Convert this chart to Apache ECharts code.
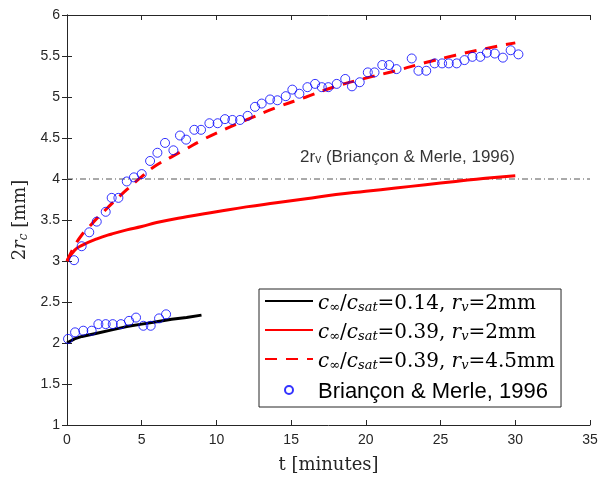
<!DOCTYPE html>
<html><head><meta charset="utf-8">
<script src="https://cdn.jsdelivr.net/npm/echarts@6/dist/echarts.min.js"></script>
<style>html,body{margin:0;padding:0;background:#fff}#c{width:603px;height:479px}</style>
</head><body><div id="c"></div>
<script>
// Data
const xTicks = [0,5,10,15,20,25,30,35];
const yTicks = [1,1.5,2,2.5,3,3.5,4,4.5,5,5.5,6];

const expUpperT = [0.47,0.98,1.49,1.99,2.59,2.99,3.44,4.0,4.48,5.0,5.56,6.05,6.56,7.12,7.56,7.97,8.52,8.97,9.53,10.08,10.57,11.07,11.58,12.09,12.58,13.03,13.59,14.08,14.64,15.08,15.55,16.09,16.6,17.05,17.49,18.05,18.62,19.07,19.59,20.13,20.58,21.1,21.56,22.05,23.07,23.52,24.04,24.6,25.1,25.55,26.08,26.6,27.13,27.66,28.1,28.63,29.17,29.69,30.21];
const expUpperD = [3.01,3.18,3.35,3.48,3.60,3.77,3.77,3.97,4.02,4.06,4.22,4.32,4.44,4.35,4.53,4.48,4.60,4.60,4.68,4.68,4.73,4.72,4.72,4.77,4.88,4.92,4.97,4.96,5.01,5.09,5.04,5.12,5.16,5.12,5.12,5.16,5.22,5.13,5.18,5.30,5.30,5.39,5.39,5.34,5.47,5.32,5.32,5.41,5.41,5.41,5.41,5.45,5.49,5.49,5.54,5.53,5.48,5.57,5.52];

const expLowerT = [0.07,0.54,1.09,1.65,2.1,2.59,3.06,3.61,4.15,4.62,5.11,5.6,6.16,6.63];
const expLowerD = [2.05,2.13,2.15,2.15,2.23,2.23,2.23,2.23,2.27,2.31,2.21,2.21,2.30,2.35];

const blackT = [0,0.5,1,2,3,4,5,6,7,8,9];
const blackD = [2.0,2.05,2.08,2.12,2.16,2.20,2.23,2.26,2.29,2.31,2.34];

const redT = [0,0.5,1,2,3,4,5,6,8,10,12,14,16,18,20,22,24,26,28,30];
const redD = [3.0,3.13,3.19,3.27,3.33,3.38,3.42,3.47,3.54,3.60,3.66,3.71,3.76,3.81,3.85,3.89,3.93,3.97,4.01,4.04];

const dashT = [0,0.5,1,1.5,2,2.5,3,4,5,6,7,8,9,10,12,14,16,18,20,22,24,26,28,30];
const dashD = [3.0,3.18,3.32,3.42,3.52,3.61,3.70,3.87,4.03,4.17,4.27,4.37,4.47,4.56,4.72,4.87,5.0,5.13,5.23,5.32,5.42,5.51,5.59,5.66];

const refLineT = [0,35];
const refLineD = [4,4];
const annotPos = [15.6,4.28];

const names = ['black','red','dash','exp'];

const zip = (a,b)=>a.map((v,i)=>[v,b[i]]);
const chart = echarts.init(document.getElementById('c'));
const axisCol = '#262626';
const serif = '"DejaVu Serif","Liberation Serif",serif';
const sans = '"Liberation Sans",Arial,sans-serif';

const LH = 26;
const richLeg = {
  i:{fontFamily:serif,fontStyle:'italic',fontSize:20,color:'#000',verticalAlign:'bottom',lineHeight:LH},
  n:{fontFamily:serif,fontSize:20,color:'#000',verticalAlign:'bottom',lineHeight:LH},
  s:{fontFamily:serif,fontStyle:'italic',fontSize:13,color:'#000',verticalAlign:'bottom',lineHeight:LH-3},
  a:{fontFamily:sans,fontSize:22,color:'#000',verticalAlign:'bottom',lineHeight:LH}
};
const legText = {
  black:'{i|c}{s|∞}{n|/}{i|c}{s|sat}{n|=0.14, }{i|r}{s|v}{n|=2mm}',
  red:'{i|c}{s|∞}{n|/}{i|c}{s|sat}{n|=0.39, }{i|r}{s|v}{n|=2mm}',
  dash:'{i|c}{s|∞}{n|/}{i|c}{s|sat}{n|=0.39, }{i|r}{s|v}{n|=4.5mm}',
  exp:'{a|Briançon & Merle, 1996}'
};
const hide = {opacity:0};

const option = {
  animation:false,
  grid:{left:67,right:13,top:15,bottom:51,containLabel:false},
  xAxis:[{
    type:'value',min:0,max:35,interval:5,
    axisLine:{lineStyle:{color:axisCol,width:1}},
    axisTick:{inside:true,length:5,lineStyle:{color:axisCol}},
    axisLabel:{color:axisCol,fontFamily:sans,fontSize:14,margin:8},
    splitLine:{show:false},
    name:'t [minutes]',nameLocation:'middle',nameGap:31,
    nameTextStyle:{fontFamily:serif,fontSize:18,color:axisCol}
  },{
    type:'value',min:0,max:35,interval:5,position:'top',
    axisLine:{lineStyle:{color:axisCol}},
    axisTick:{inside:true,length:5,lineStyle:{color:axisCol}},
    axisLabel:{show:false},splitLine:{show:false}
  }],
  yAxis:[{
    type:'value',min:1,max:6,interval:0.5,
    axisLine:{lineStyle:{color:axisCol}},
    axisTick:{inside:true,length:5,lineStyle:{color:axisCol}},
    axisLabel:{color:axisCol,fontFamily:sans,fontSize:14,margin:7},
    splitLine:{show:false},
    name:'{n|2}{i|r}{s|c}{n| [mm]}',nameLocation:'middle',nameGap:32,nameRotate:90,
    nameTextStyle:{rich:{
      n:{fontFamily:serif,fontSize:18,color:axisCol,verticalAlign:'bottom',lineHeight:22},
      i:{fontFamily:serif,fontSize:18,fontStyle:'italic',color:axisCol,verticalAlign:'bottom',lineHeight:22},
      s:{fontFamily:serif,fontSize:12,fontStyle:'italic',color:axisCol,verticalAlign:'bottom',lineHeight:20}
    }}
  },{
    type:'value',min:1,max:6,interval:0.5,position:'right',
    axisLine:{lineStyle:{color:axisCol}},
    axisTick:{inside:true,length:5,lineStyle:{color:axisCol}},
    axisLabel:{show:false},splitLine:{show:false}
  }],
  legend:{
    data:[
      {name:'black',itemStyle:hide},
      {name:'red',itemStyle:hide},
      {name:'dash',itemStyle:hide},
      {name:'exp'}
    ],
    orient:'vertical',left:259,top:289,
    itemWidth:48,itemHeight:8,itemGap:9,
    padding:[5,6,4,5],
    borderColor:'#262626',borderWidth:1,backgroundColor:'#fff',
    formatter:(n)=>legText[n],
    textStyle:{rich:richLeg}
  },
  series:[
    {name:'ref',type:'line',data:zip(refLineT,refLineD),showSymbol:false,symbol:'none',
     lineStyle:{color:'#555',width:1,type:[6,3,1,3]},silent:true,z:1},
    {name:'black',type:'line',data:zip(blackT,blackD),symbol:'none',color:'#000',
     lineStyle:{color:'#000',width:3},z:3},
    {name:'red',type:'line',data:zip(redT,redD),symbol:'none',color:'#ff0000',smooth:true,
     lineStyle:{color:'#ff0000',width:3},z:3},
    {name:'dash',type:'line',data:zip(dashT,dashD),symbol:'none',color:'#ff0000',smooth:true,
     lineStyle:{color:'#ff0000',width:3,type:[12,9]},z:3},
    {name:'exp',type:'scatter',data:zip(expUpperT,expUpperD).concat(zip(expLowerT,expLowerD)),
     symbol:'circle',symbolSize:9,
     itemStyle:{color:'rgba(0,0,0,0)',borderColor:'#0000ff',borderWidth:1},z:4},
    {name:'annot',type:'scatter',data:[annotPos],symbolSize:0,silent:true,
     label:{show:true,position:'right',distance:0,
       formatter:'{a|2r}{s|v}{a| (Briançon & Merle, 1996)}',
       rich:{a:{fontFamily:sans,fontSize:17,color:'#000',verticalAlign:'bottom',lineHeight:20},
             s:{fontFamily:sans,fontSize:12,color:'#000',verticalAlign:'bottom',lineHeight:17}}}}
  ]
};
chart.setOption(option);
</script></body></html>
